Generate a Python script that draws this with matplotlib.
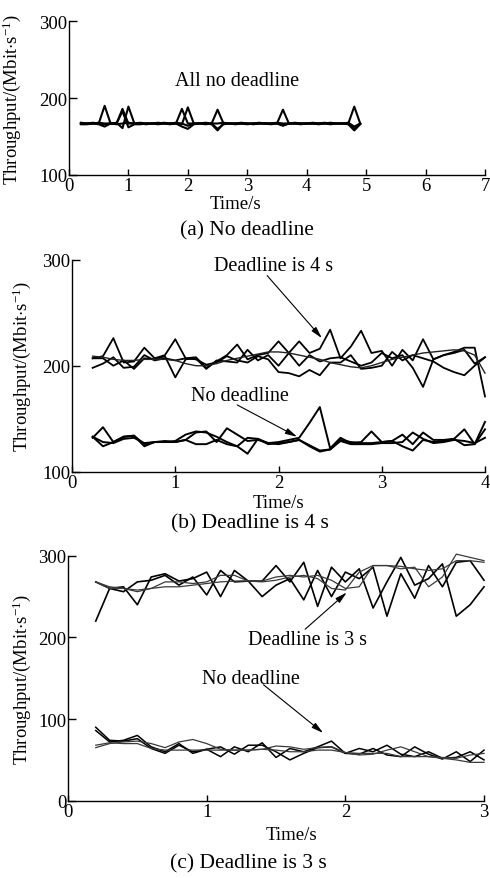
import numpy as np
import matplotlib
matplotlib.use("Agg")
import matplotlib.pyplot as plt

plt.rcParams['font.family'] = ['Liberation Serif', 'DejaVu Serif']
plt.rcParams['mathtext.fontset'] = 'custom'
plt.rcParams['mathtext.rm'] = 'Liberation Serif'
plt.rcParams['mathtext.it'] = 'Liberation Serif:italic'

# ---------------- data ----------------
time_a = np.round(np.arange(0.2, 4.95, 0.1), 1)
a1 = [167,167,168,167,190,167,167,186,167,167,
      167,167,167,168,167,167,167,186,167,167,
      167,167,167,185,167,167,167,167,167,167,
      167,167,167,167,185,167,167,167,167,167,
      167,167,167,167,167,167,189,167]
a2 = [167,167,167,166,163,167,168,161,189,167,
      167,166,167,167,167,167,167,166,188,167,
      167,167,166,158,167,167,167,167,166,167,
      167,167,167,167,164,167,167,167,167,167,
      167,168,167,167,167,167,160,167]
a3 = [166,166,167,167,166,167,167,183,162,166,
      166,167,167,166,167,166,167,163,160,166,
      167,166,167,160,166,167,166,167,167,166,
      167,167,166,167,165,167,167,166,167,167,
      166,167,166,167,167,166,158,166]
a4 = [168,167,167,168,167,167,166,167,168,167,
      168,167,167,167,168,167,168,167,164,167,
      167,168,167,167,168,167,167,168,167,167,
      168,167,167,168,167,167,168,167,167,168,
      167,167,168,167,167,168,163,167]

time_b = np.round(np.arange(0.2, 4.05, 0.1), 1)
b_dl1 = [207,209,226,203,204,217,207,210,225,207,
         208,198,204,210,220,206,210,212,223,212,
         223,212,216,234,207,218,233,212,214,200,
         215,205,225,206,210,213,217,217,171]
b_dl2 = [207,207,200,205,197,207,206,209,189,206,
         207,197,205,204,203,215,205,210,200,212,
         200,210,204,207,208,204,200,203,212,207,
         210,198,180,206,210,212,215,202,208]
b_dl3 = [209,208,206,205,205,206,206,206,205,202,
         200,200,202,205,207,209,211,213,213,212,
         210,208,206,203,201,199,198,200,203,206,
         208,210,212,213,214,215,214,210,193]
b_dl4 = [198,202,208,198,199,210,205,207,205,207,
         206,201,203,209,205,203,209,206,194,193,
         190,196,191,203,203,210,197,198,200,213,
         205,210,207,204,198,194,191,200,208]
b_nd1 = [132,142,128,133,134,124,128,129,128,130,
         137,138,128,141,135,129,130,127,128,130,
         132,146,161,122,132,127,128,138,128,129,
         135,126,137,130,130,131,140,126,147]
b_nd2 = [133,124,128,133,134,126,128,128,128,130,
         126,126,130,126,124,117,131,126,127,128,
         130,125,120,121,130,128,127,127,128,129,
         124,120,130,128,129,131,125,126,140]
b_nd3 = [133,128,127,131,132,127,128,128,129,135,
         138,137,133,128,124,132,131,127,126,128,
         130,124,119,121,129,126,126,126,127,127,
         128,137,131,127,128,130,129,127,132]

time_c = np.round(np.arange(0.2, 3.05, 0.1), 1)
c_dl1 = [220,260,262,240,274,278,269,272,280,250,
         282,269,269,288,268,292,238,286,268,284,
         236,268,298,264,272,290,226,240,262]
c_dl2 = [268,260,256,268,270,276,264,274,252,282,
         268,269,250,264,272,246,282,250,280,272,
         286,226,278,248,288,262,292,294,270]
c_dl3 = [268,260,260,258,260,262,262,264,266,268,
         269,269,268,270,274,276,272,260,258,280,
         288,288,287,284,282,284,294,294,292]
c_dl4 = [268,262,260,256,260,268,268,266,268,276,
         276,269,269,274,276,274,276,270,260,262,
         288,288,284,286,262,274,302,298,294]
c_nd1 = [90,74,73,76,64,58,68,60,63,54,
         66,60,71,53,64,60,66,73,58,57,
         64,56,54,66,57,51,60,48,62]
c_nd2 = [86,72,74,80,66,60,70,58,63,66,
         57,68,68,60,50,58,65,66,58,64,
         60,68,57,54,60,52,53,60,50]
c_nd3 = [65,70,72,73,70,65,72,75,70,63,
         62,62,63,67,66,63,65,66,59,56,
         57,62,66,60,54,53,52,56,58]
c_nd4 = [68,71,70,70,64,62,62,62,62,62,
         62,62,63,62,60,60,62,62,59,58,
         58,58,54,54,54,52,50,47,47]

ylabel = r'Throughput/(Mbit$\cdot$s$^{-1}$)'
TICK_FS = 13.5
LAB_FS = 13.5
ANN_FS = 14.5
CAP_FS = 15.5

fig = plt.figure(figsize=(4.9, 8.79), dpi=100)

def style(ax, xmax, yticks, ylim):
    for s in ['top', 'right']:
        ax.spines[s].set_visible(False)
    for s in ['left', 'bottom']:
        ax.spines[s].set_linewidth(1.0)
    ax.set_xlim(0, xmax)
    ax.set_ylim(*ylim)
    ax.set_xticks(range(0, xmax + 1))
    ax.set_yticks(yticks)
    ax.tick_params(axis='both', direction='in', labelsize=TICK_FS, width=1.0)
    ax.tick_params(axis='x', length=4, pad=1.5)
    ax.tick_params(axis='y', length=6, pad=1)

arrow_kw = dict(arrowstyle='-|>,head_length=0.7,head_width=0.18', color='black', lw=0.8, shrinkA=0, shrinkB=0)

# ---------------- panel (a) ----------------
axa = fig.add_axes([0.1408, 0.7998, 0.849, 0.1748])
for s in [a1, a2, a3, a4]:
    axa.plot(time_a, s, color='black', lw=1.5)
style(axa, 7, [100, 200, 300], (100, 300))
axa.text(2.82, 223, 'All no deadline', fontsize=ANN_FS, ha='center', va='center')
axa.set_xlabel('Time/s', fontsize=LAB_FS)
axa.xaxis.set_label_coords(0.4, -0.13)
axa.set_ylabel(ylabel, fontsize=LAB_FS)
axa.yaxis.set_label_coords(-0.11, 0.5)
fig.text(0.503, 0.737, '(a) No deadline', fontsize=CAP_FS, ha='center', va='center')

# ---------------- panel (b) ----------------
axb = fig.add_axes([0.147, 0.4622, 0.8428, 0.2412])
for s in [b_dl1, b_dl2, b_dl4]:
    axb.plot(time_b, s, color='black', lw=1.3, clip_on=False)
axb.plot(time_b, b_dl3, color='#222222', lw=1.0, clip_on=False)
for s in [b_nd1, b_nd2, b_nd3]:
    axb.plot(time_b, s, color='black', lw=1.4, clip_on=False)
style(axb, 4, [100, 200, 300], (100, 300))
axb.text(1.95, 295, 'Deadline is 4 s', fontsize=ANN_FS, ha='center', va='center')
axb.annotate('', xy=(2.42, 226), xytext=(1.89, 285), arrowprops=arrow_kw)
axb.text(1.63, 172, 'No deadline', fontsize=ANN_FS, ha='center', va='center')
axb.annotate('', xy=(2.18, 133), xytext=(1.6, 163), arrowprops=arrow_kw)
axb.set_xlabel('Time/s', fontsize=LAB_FS)
axb.xaxis.set_label_coords(0.5, -0.105)
axb.set_ylabel(ylabel, fontsize=LAB_FS)
axb.yaxis.set_label_coords(-0.094, 0.5)
fig.text(0.51, 0.404, '(b) Deadline is 4 s', fontsize=CAP_FS, ha='center', va='center')

# ---------------- panel (c) ----------------
axc = fig.add_axes([0.1388, 0.0879, 0.849, 0.2787])
for s in [c_dl1, c_dl2]:
    axc.plot(time_c, s, color='black', lw=1.2, clip_on=False)
for s in [c_dl3, c_dl4]:
    axc.plot(time_c, s, color='#3a3a3a', lw=0.9, clip_on=False)
for s in [c_nd1, c_nd2]:
    axc.plot(time_c, s, color='black', lw=1.1, clip_on=False)
for s in [c_nd3, c_nd4]:
    axc.plot(time_c, s, color='#3a3a3a', lw=0.9, clip_on=False)
style(axc, 3, [0, 100, 200, 300], (0, 300))
axc.text(1.73, 198, 'Deadline is 3 s', fontsize=ANN_FS, ha='center', va='center')
axc.annotate('', xy=(2.01, 255), xytext=(1.71, 210), arrowprops=arrow_kw)
axc.text(1.32, 150, 'No deadline', fontsize=ANN_FS, ha='center', va='center')
axc.annotate('', xy=(1.84, 83), xytext=(1.41, 142), arrowprops=arrow_kw)
axc.set_xlabel('Time/s', fontsize=LAB_FS)
axc.xaxis.set_label_coords(0.538, -0.105)
axc.set_ylabel(ylabel, fontsize=LAB_FS)
axc.yaxis.set_label_coords(-0.084, 0.5)
fig.text(0.507, 0.017, '(c) Deadline is 3 s', fontsize=CAP_FS, ha='center', va='center')

fig.savefig('out.png', dpi=100)
